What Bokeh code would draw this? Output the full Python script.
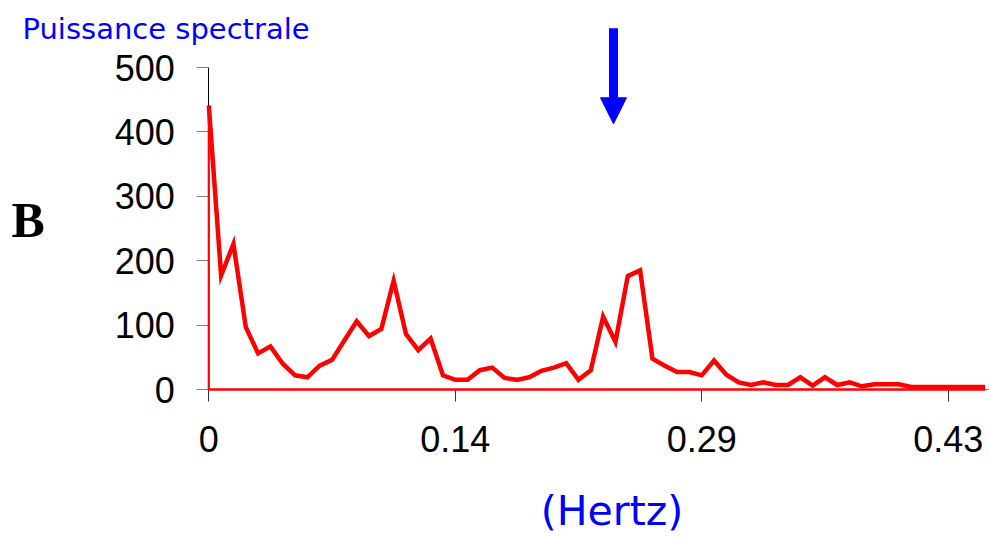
from bokeh.plotting import figure
from bokeh.models import Range1d, FixedTicker, Label, Arrow, NormalHead
from bokeh.embed import file_html
from bokeh.resources import INLINE

# ---- data ----
power = [441, 177, 226, 97, 56, 67, 40, 22, 19, 37, 46, 76, 106, 83, 94, 169, 86, 61, 79, 22, 15,
         15, 30, 34, 18, 15, 19, 29, 34, 41, 15, 30, 113, 74, 176, 185, 48, 37, 27, 27, 22, 45,
         23, 11, 7, 11, 7, 7, 19, 6, 19, 7, 11, 5, 8, 8, 8, 4, 4, 4, 4, 4, 4, 4]
bins = list(range(len(power)))
x_tick_positions = [0, 20, 40, 60]
x_tick_labels = ["0", "0.14", "0.29", "0.43"]
y_ticks = [0, 100, 200, 300, 400, 500]
peak_bin = 32.84
y_label = "Puissance spectrale"
x_label = "(Hertz)"
panel_letter = "B"

# ---- layout geometry (pixels) ----
W, H = 989, 537
X0, XSTEP = 208.3, 12.323                   # pixel of bin 0, pixels per bin
Y0, YSTEP = 389.0, 0.644                    # pixel of value 0, pixels per unit

def dx(px):
    return (px - X0) / XSTEP

def dy(py):
    return (Y0 - py) / YSTEP

p = figure(width=W, height=H, output_backend="svg", toolbar_location=None,
           x_range=Range1d(dx(0), dx(W)), y_range=Range1d(dy(H), dy(0)),
           min_border=0, min_border_left=0, min_border_right=0, min_border_top=0,
           min_border_bottom=0)
p.outline_line_color = None
p.xgrid.visible = False
p.ygrid.visible = False
p.background_fill_color = "white"
p.border_fill_color = "white"

# axes
TICK_FONT = "Liberation Sans"
p.yaxis.fixed_location = 0
p.yaxis.bounds = (0, 500)
p.yaxis.ticker = FixedTicker(ticks=y_ticks)
p.yaxis.axis_line_color = "black"
p.yaxis.major_tick_line_color = "#808080"
p.yaxis.major_tick_out = 12
p.yaxis.major_tick_in = 0
p.yaxis.minor_tick_line_color = None
p.yaxis.major_label_text_font = TICK_FONT
p.yaxis.major_label_text_font_size = "36px"
p.yaxis.major_label_text_color = "black"
p.yaxis.major_label_standoff = 22

p.xaxis.fixed_location = 0
p.xaxis.bounds = (0, dx(W))
p.xaxis.ticker = FixedTicker(ticks=x_tick_positions)
p.xaxis.major_label_overrides = {t: l for t, l in zip(x_tick_positions, x_tick_labels)}
p.xaxis.axis_line_color = "#808080"
p.xaxis.major_tick_line_color = "#333333"
p.xaxis.major_tick_out = 12
p.xaxis.major_tick_in = 0
p.xaxis.minor_tick_line_color = None
p.xaxis.major_label_text_font = TICK_FONT
p.xaxis.major_label_text_font_size = "36px"
p.xaxis.major_label_text_color = "black"
p.xaxis.major_label_standoff = 24

# thin red outline of the series area
p.line([bins[0], bins[0]], [0, power[0]], line_color="red", line_width=2.2, level="overlay")
p.line([bins[0], bins[-1]], [0, 0], line_color="red", line_width=2.5, level="overlay")
# spectrum line
p.line(bins, power, line_color="red", line_width=4.5, line_join="miter", level="overlay")

# arrow marking the peak
p.add_layout(Arrow(end=NormalHead(size=26, fill_color="blue", line_color="blue", line_width=1),
                   x_start=peak_bin, y_start=dy(27.7), x_end=peak_bin, y_end=dy(123.3),
                   line_color="blue", line_width=9))

# texts
p.add_layout(Label(x=dx(22), y=dy(28), text=y_label, text_font="DejaVu Sans",
                   text_font_size="29px", text_color="blue", text_baseline="alphabetic"))
p.add_layout(Label(x=dx(611.5), y=dy(510), text=x_label, text_font="DejaVu Sans",
                   text_font_size="41px", text_color="blue", text_align="center",
                   text_baseline="alphabetic"))
p.add_layout(Label(x=dx(11), y=dy(219), text=panel_letter, text_font="Liberation Serif",
                   text_font_style="bold", text_font_size="50px", text_color="black",
                   text_baseline="alphabetic"))

open("out.html", "w").write(file_html(p, INLINE))
